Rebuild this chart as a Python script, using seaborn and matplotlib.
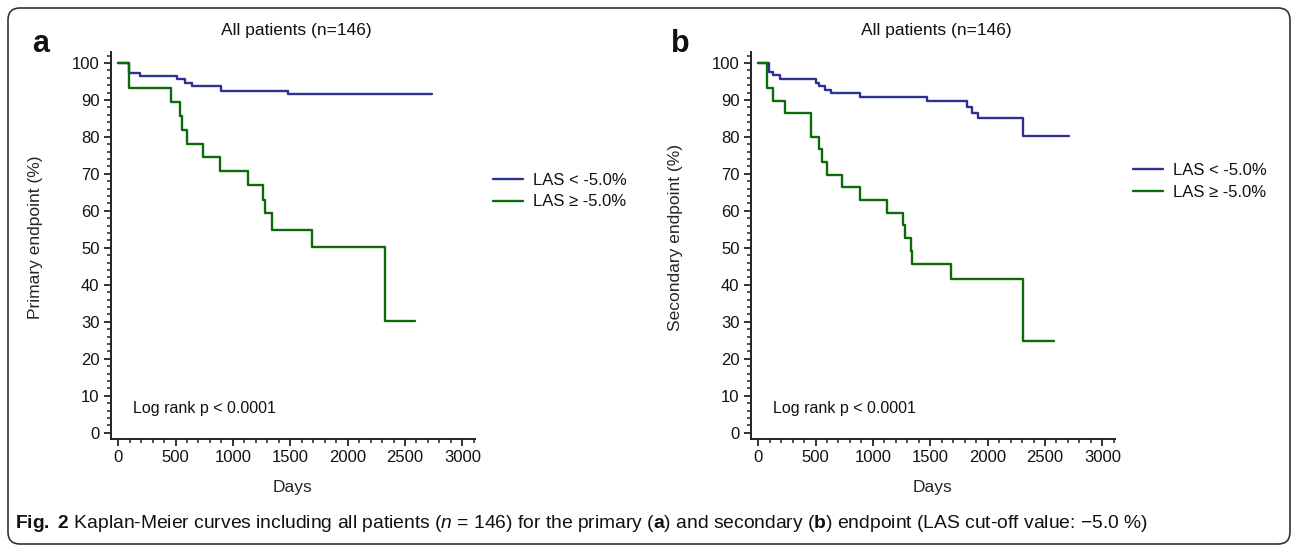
import numpy as np
import pandas as pd
import seaborn as sns
import matplotlib.pyplot as plt
from matplotlib.ticker import MultipleLocator
from matplotlib.patches import FancyBboxPatch

# Kaplan-Meier step values (days, survival %)
a_low_days = [0, 96, 193, 509, 582, 640, 895, 1480, 2731]
a_low_surv = [100, 97.4, 96.5, 95.6, 94.7, 93.8, 92.5, 91.5, 91.5]
a_high_days = [0, 90, 462, 535, 558, 602, 740, 889, 1129, 1263, 1283, 1339, 1693, 2322, 2585]
a_high_surv = [100, 93.1, 89.5, 85.7, 81.8, 78.2, 74.6, 70.8, 66.9, 62.9, 59.3, 54.7, 50.2, 30.2, 30.2]

b_low_days = [0, 92, 130, 186, 500, 529, 579, 631, 885, 1471, 1821, 1862, 1920, 2308, 2710]
b_low_surv = [100, 97.6, 96.7, 95.6, 94.7, 93.8, 92.7, 91.8, 90.9, 89.7, 88.2, 86.6, 85.0, 80.3, 80.3]
b_high_days = [0, 77, 130, 238, 462, 529, 558, 597, 733, 885, 1127, 1258, 1279, 1332, 1343, 1681, 2311, 2576]
b_high_surv = [100, 93.1, 89.7, 86.6, 79.9, 76.6, 73.1, 69.8, 66.5, 63.0, 59.5, 56.1, 52.7, 49.1, 45.7, 41.7, 24.9, 24.9]

groups = ["LAS < -5.0%", "LAS \u2265 -5.0%"]
colors = ["#2E3192", "#0B6B0B"]
titles = ["All patients (n=146)", "All patients (n=146)"]
ylabels = ["Primary endpoint (%)", "Secondary endpoint (%)"]
letters = ["a", "b"]

sns.set_style("ticks")
plt.rcParams["font.family"] = ["Liberation Sans", "DejaVu Sans"]
plt.rcParams["axes.edgecolor"] = "#222222"
plt.rcParams["text.color"] = "#111111"
plt.rcParams["mathtext.fontset"] = "custom"
plt.rcParams["mathtext.rm"] = "Liberation Sans"
plt.rcParams["mathtext.bf"] = "Liberation Sans:bold"
plt.rcParams["mathtext.it"] = "Liberation Sans:italic"


def km_frame(low_d, low_s, high_d, high_s):
    a = pd.DataFrame({"days": low_d, "surv": low_s, "group": groups[0]})
    b = pd.DataFrame({"days": high_d, "surv": high_s, "group": groups[1]})
    return pd.concat([a, b], ignore_index=True)


data = [km_frame(a_low_days, a_low_surv, a_high_days, a_high_surv),
        km_frame(b_low_days, b_low_surv, b_high_days, b_high_surv)]

fig = plt.figure(figsize=(12.95, 5.46), dpi=100)
lefts = [0.0855, 0.5797]
legend_y = [0.705, 0.73]

for i in range(2):
    ax = fig.add_axes([lefts[i], 0.196, 0.2813, 0.709])
    sns.lineplot(data=data[i], x="days", y="surv", hue="group", hue_order=groups,
                 palette=colors, drawstyle="steps-post", estimator=None, sort=False,
                 linewidth=1.7, ax=ax)
    ax.set_xlim(-65, 3110)
    ax.set_ylim(-1.7, 103)
    ax.set_xticks(range(0, 3001, 500))
    ax.set_yticks(range(0, 101, 10))
    ax.xaxis.set_minor_locator(MultipleLocator(100))
    ax.yaxis.set_minor_locator(MultipleLocator(2))
    ax.tick_params(which="major", length=5, width=1.3, labelsize=12, pad=3, color="#222222",
                   labelcolor="#111111")
    ax.tick_params(which="minor", length=3, width=1.1, color="#222222")
    for s in ["left", "bottom"]:
        ax.spines[s].set_linewidth(1.4)
    sns.despine(ax=ax)
    ax.set_xlabel("Days", fontsize=12.5)
    ax.set_ylabel(ylabels[i], fontsize=12.5)
    ax.xaxis.set_label_coords(0.5, -0.105)
    ax.yaxis.set_label_coords(-0.185, 0.52)
    ax.text(0.51, 1.054, titles[i], transform=ax.transAxes, ha="center", va="center", fontsize=12.5)
    ax.text(0.061, 0.08, "Log rank p < 0.0001", transform=ax.transAxes, ha="left", va="center",
            fontsize=11.5)
    h, l = ax.get_legend_handles_labels()
    ax.legend(h, l, loc="upper left", bbox_to_anchor=(1.03, legend_y[i]), frameon=False,
              fontsize=12, handlelength=1.8, handletextpad=0.6, borderaxespad=0,
              labelspacing=0.4)
    fig.text(lefts[i] - 0.054, 0.92, letters[i], fontsize=22, fontweight="bold",
             ha="center", va="center")

caption = (r"$\bf{Fig.\ 2}$ Kaplan-Meier curves including all patients ($\it{n}$ = 146) "
           r"for the primary ($\bf{a}$) and secondary ($\bf{b}$) endpoint (LAS cut-off value: "
           + "\u22125.0 %)")
fig.text(15 / 1295, 0.041, caption, fontsize=13.9, ha="left", va="center")

frame = FancyBboxPatch((0.08, 0.02), 12.82, 5.36, boxstyle="round,pad=0,rounding_size=0.12",
                       transform=fig.dpi_scale_trans, fill=False, edgecolor="#333333",
                       linewidth=1.2, clip_on=False)
fig.patches.append(frame)

fig.savefig("out.png", dpi=100)
